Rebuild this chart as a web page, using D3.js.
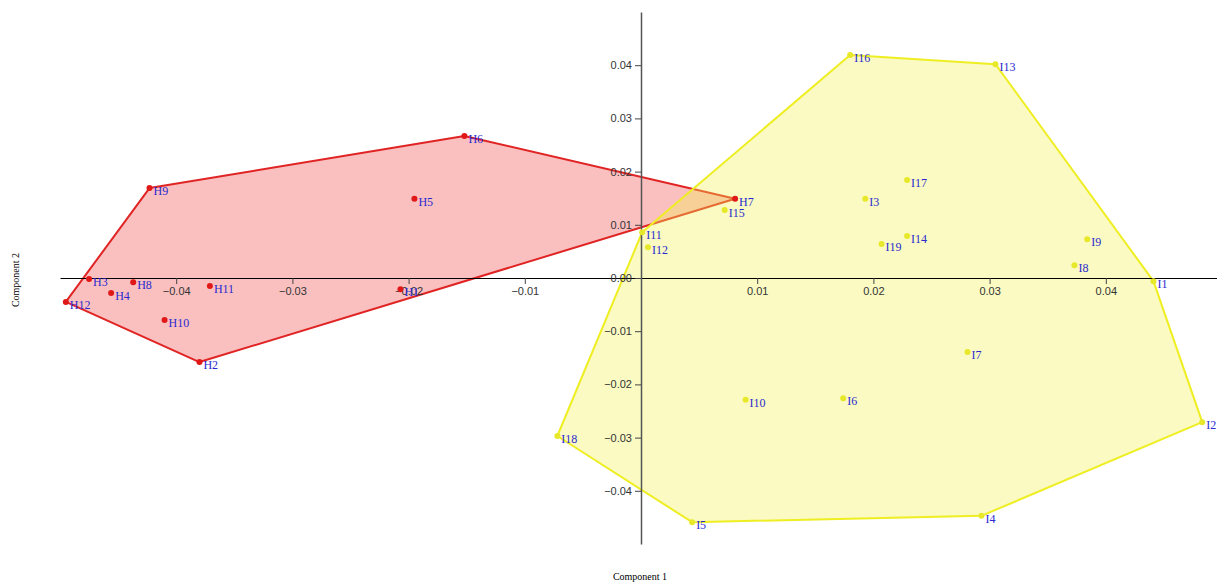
<!DOCTYPE html>
<html>
<head>
<meta charset="utf-8">
<script src="https://cdn.jsdelivr.net/npm/d3@7/dist/d3.min.js"></script>
<style>
  body { margin: 0; background: #fff; }
  svg { display: block; }
</style>
</head>
<body>
<div id="chart"></div>
<script>
// group H (red)
const hNames = ["H1","H2","H3","H4","H5","H6","H7","H8","H9","H10","H11","H12"];
const hX = [-0.0207,-0.0380,-0.0475,-0.0456,-0.0195,-0.0152,0.0081,-0.0437,-0.0423,-0.0410,-0.0371,-0.0495];
const hY = [-0.0021,-0.0158,-0.0002,-0.0028,0.0149,0.0267,0.0149,-0.0008,0.0169,-0.0079,-0.0015,-0.0045];

// group I (yellow)
const iNames = ["I1","I2","I3","I4","I5","I6","I7","I8","I9","I10","I11","I12","I13","I14","I15","I16","I17","I18","I19"];
const iX = [0.0441,0.0483,0.0193,0.0293,0.0044,0.0174,0.0281,0.0373,0.0384,0.0090,0.0001,0.0006,0.0305,0.0229,0.0072,0.0180,0.0229,-0.0072,0.0207];
const iY = [-0.0006,-0.0271,0.0149,-0.0447,-0.0459,-0.0226,-0.0139,0.0024,0.0073,-0.0229,0.0086,0.0058,0.0402,0.0079,0.0128,0.0419,0.0184,-0.0297,0.0064];

const xTicks = [-0.04,-0.03,-0.02,-0.01,0.01,0.02,0.03,0.04];
const yTicks = [-0.04,-0.03,-0.02,-0.01,0,0.01,0.02,0.03,0.04];

const W = 1217, H = 585;
const svg = d3.select("#chart").append("svg")
  .attr("width", W)
  .attr("height", H);

const x = d3.scaleLinear().domain([-0.05, 0.05]).range([60, 1222]);
const y = d3.scaleLinear().domain([-0.05, 0.05]).range([544, 12]);

const groups = [
  { names: hNames, xs: hX, ys: hY, fill: "rgba(240,60,60,0.33)", stroke: "#e02424", dot: "#e01818" },
  { names: iNames, xs: iX, ys: iY, fill: "rgba(240,240,80,0.35)", stroke: "#eeee22", dot: "#e8e82a" }
];

groups.forEach(g => {
  g.pts = g.names.map((n, i) => ({ name: n, x: g.xs[i], y: g.ys[i] }));
  const hull = d3.polygonHull(g.pts.map(d => [x(d.x), y(d.y)]));
  svg.append("path")
    .attr("d", "M" + hull.join("L") + "Z")
    .attr("fill", g.fill)
    .attr("stroke", g.stroke)
    .attr("stroke-width", 2)
    .attr("stroke-linejoin", "round");
});

// axes through origin
const xAxis = svg.append("g")
  .attr("transform", `translate(0,${y(0)})`)
  .call(d3.axisBottom(x).tickValues(xTicks).tickSizeOuter(0).tickFormat(d3.format(".2f")));
const yAxis = svg.append("g")
  .attr("transform", `translate(${x(0)},0)`)
  .call(d3.axisLeft(y).tickValues(yTicks).tickSizeOuter(0).tickFormat(d3.format(".2f")));

xAxis.select(".domain").attr("stroke", "#000");
yAxis.select(".domain").attr("stroke", "#555").attr("stroke-width", 1.5);
[xAxis, yAxis].forEach(a => {
  a.selectAll(".tick line").attr("stroke", "#444");
  a.selectAll(".tick text")
    .attr("fill", "#333")
    .style("font-family", "'Liberation Sans', Arial, sans-serif")
    .style("font-size", "11px");
});

groups.forEach(g => {
  svg.append("g").selectAll("circle")
    .data(g.pts)
    .join("circle")
    .attr("cx", d => x(d.x))
    .attr("cy", d => y(d.y))
    .attr("r", 3)
    .attr("fill", g.dot);

  svg.append("g").selectAll("text")
    .data(g.pts)
    .join("text")
    .attr("x", d => x(d.x) + 4)
    .attr("y", d => y(d.y) + 7)
    .attr("fill", "#2a2ad0")
    .style("font-family", "'Liberation Serif', 'Times New Roman', serif")
    .style("font-size", "12px")
    .text(d => d.name);
});

svg.append("text")
  .attr("x", 640)
  .attr("y", 580)
  .attr("text-anchor", "middle")
  .style("font-family", "'Liberation Serif', 'Times New Roman', serif")
  .style("font-size", "10px")
  .text("Component 1");

svg.append("text")
  .attr("transform", `translate(19,280) rotate(-90)`)
  .attr("text-anchor", "middle")
  .style("font-family", "'Liberation Serif', 'Times New Roman', serif")
  .style("font-size", "10px")
  .text("Component 2");
</script>
</body>
</html>
